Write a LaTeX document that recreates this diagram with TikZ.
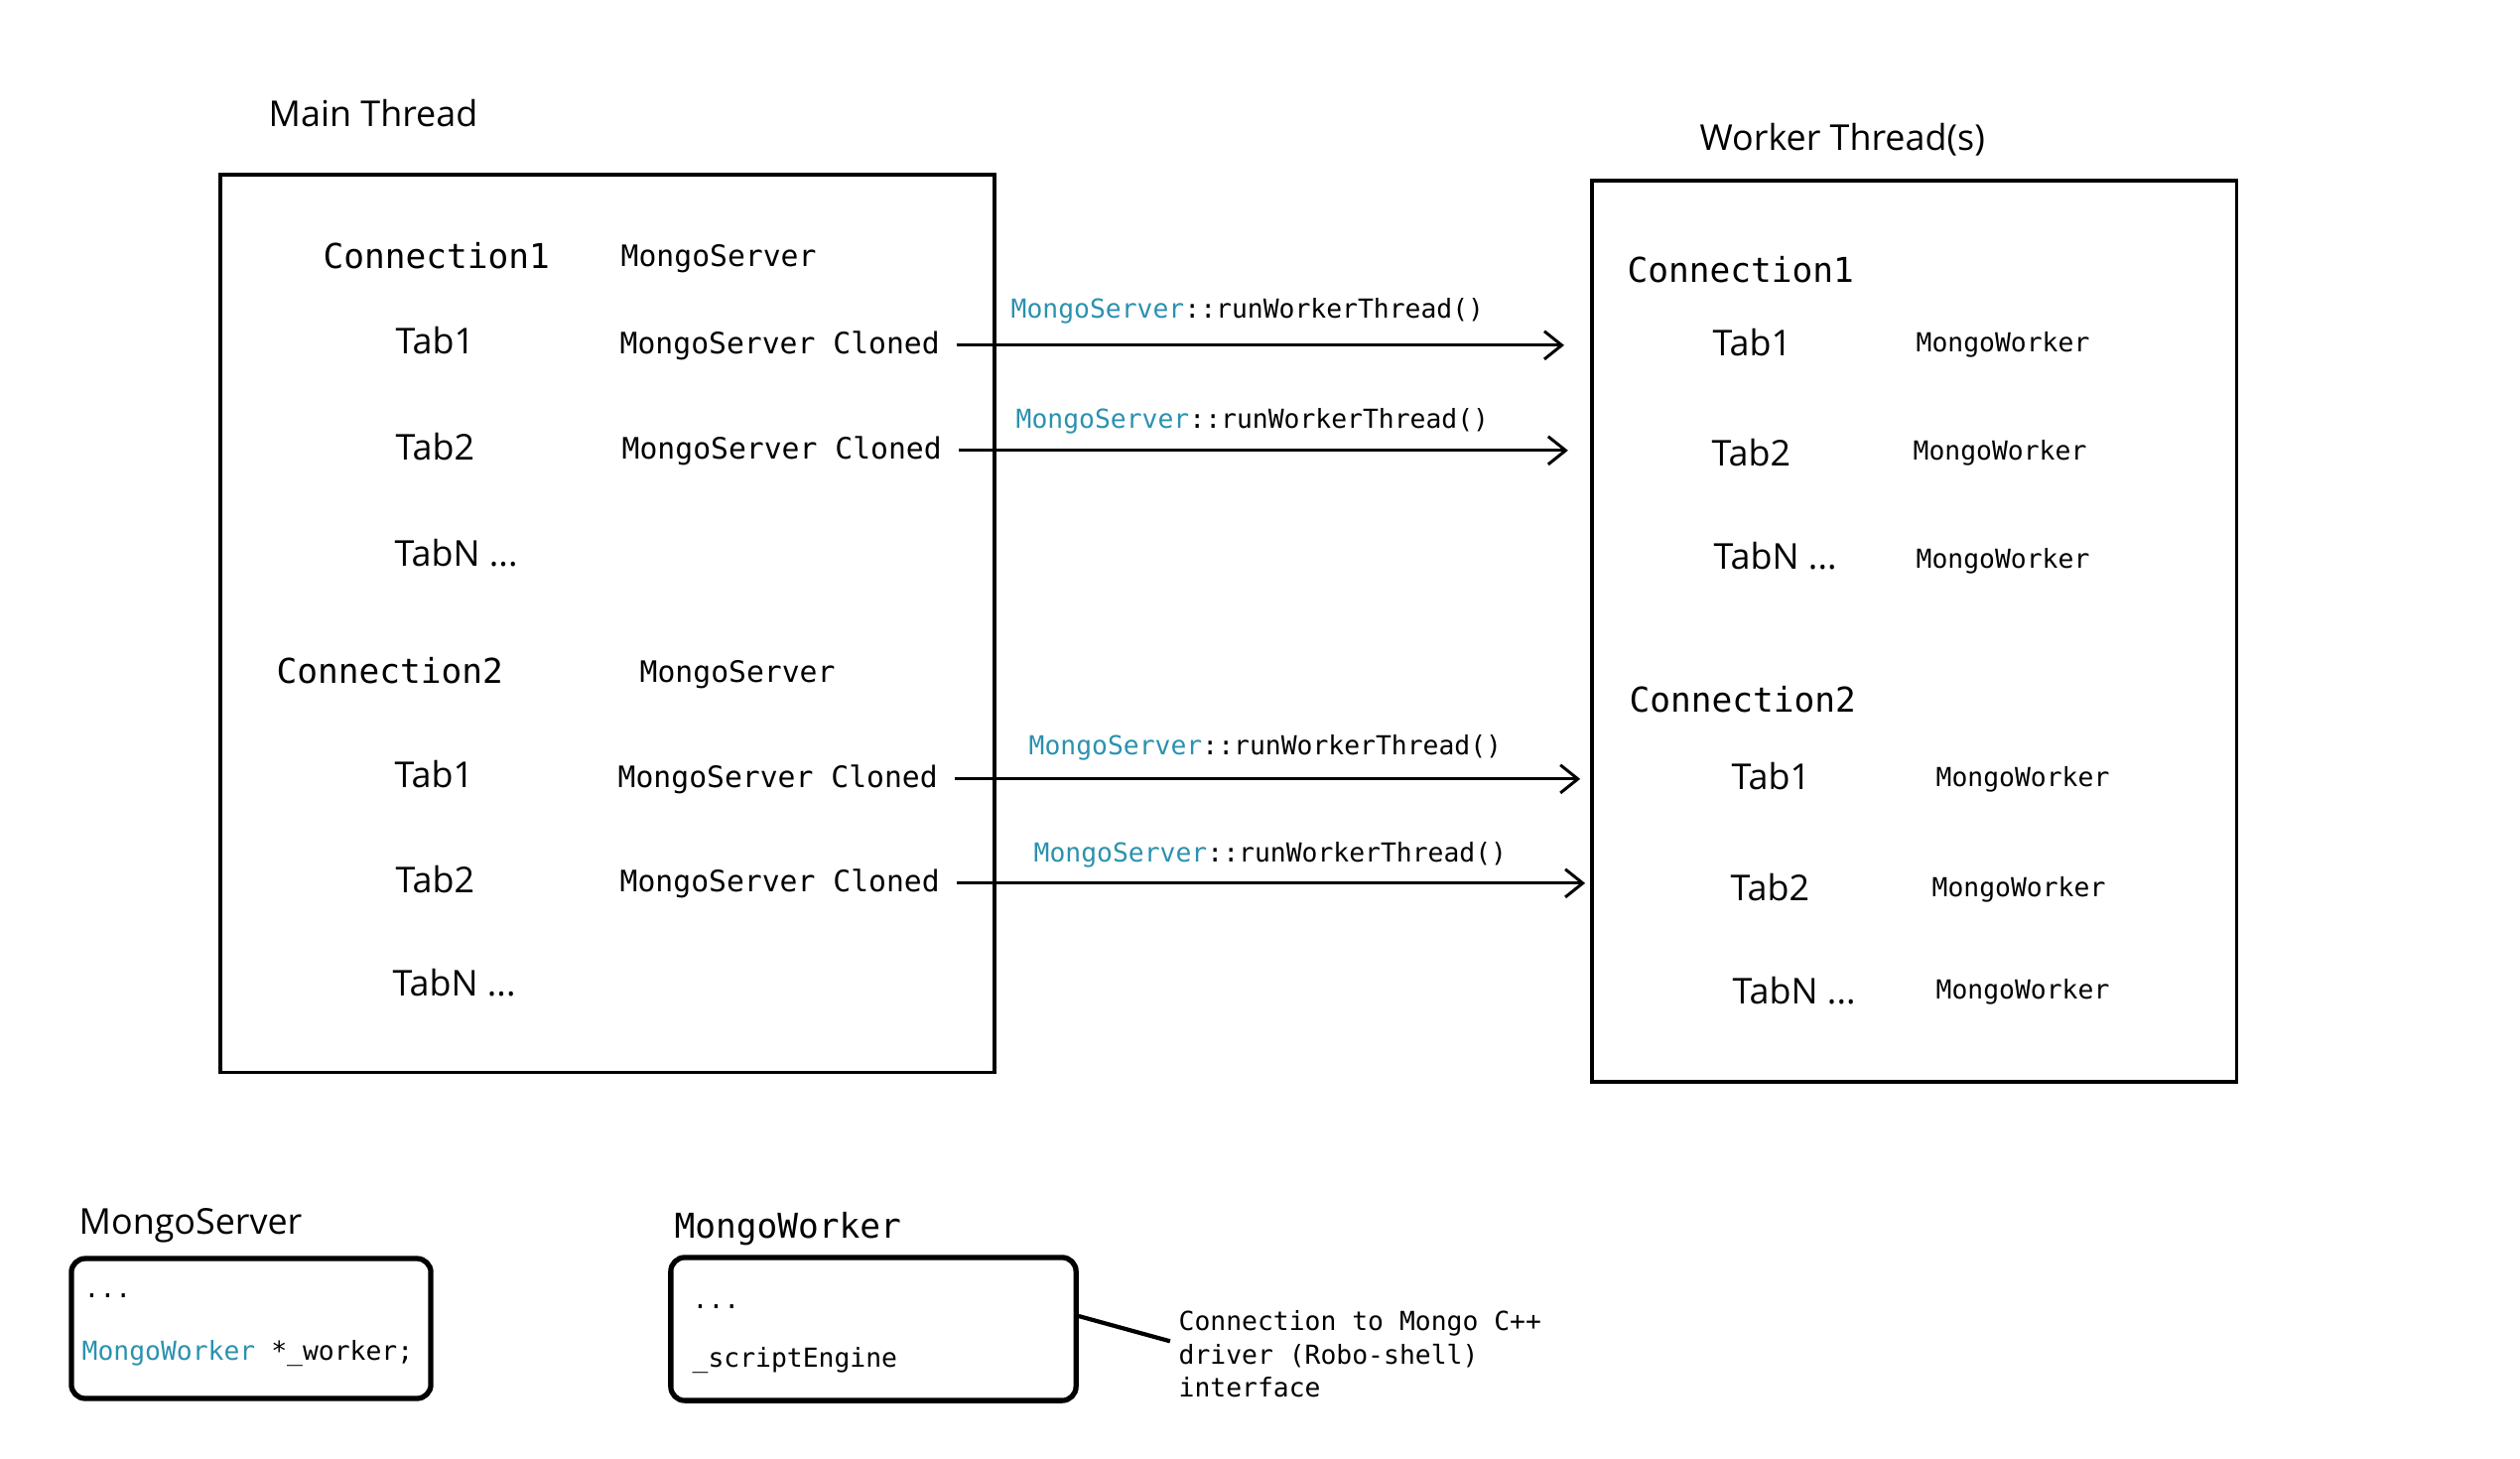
\documentclass[tikz,border=0pt]{standalone}
\usepackage{fontspec}
\setmainfont{Open Sans}
\newfontfamily\codefont{DejaVu Sans Mono}
\usetikzlibrary{arrows.meta}
\definecolor{typeblue}{HTML}{2B91AF}

\begin{document}
\begin{tikzpicture}[x=0.01cm, y=-0.01cm,
    every node/.style={inner sep=0pt, anchor=base west},
    head/.style={font=\fontsize{10.2}{12}\selectfont},
    conn/.style={font=\codefont\fontsize{9.8}{12}\selectfont},
    srv/.style={font=\codefont\fontsize{8.45}{10}\selectfont},
    code/.style={font=\codefont\fontsize{7.5}{9.5}\selectfont},
    frame/.style={draw, line width=1pt, anchor=center},
    membox/.style={draw, line width=1.5pt, rounded corners=4pt, anchor=center}]
  \useasboundingbox (0,0) rectangle (2539,1469);

  % main thread
  \node[head] (mt) at (270,127) {Main Thread};
  \node[frame, minimum width=221.9pt, minimum height=257.2pt] (mbox) at (612,628) {};
  \node[conn] (m1) at (325,270) {Connection1};
  \node[srv] (ms1) at (625,268) {MongoServer};
  \node[head] (m11) at (398,356) {Tab1};
  \node[srv] (mc11) at (624,356) {MongoServer Cloned};
  \node[head] (m12) at (398,463) {Tab2};
  \node[srv] (mc12) at (626,462) {MongoServer Cloned};
  \node[head] (m1n) at (397,570) {TabN ...};
  \node[conn] (m2) at (278,688) {Connection2};
  \node[srv] (ms2) at (644,687) {MongoServer};
  \node[head] (m21) at (397,793) {Tab1};
  \node[srv] (mc21) at (622,793) {MongoServer Cloned};
  \node[head] (m22) at (398,899) {Tab2};
  \node[srv] (mc22) at (624,898) {MongoServer Cloned};
  \node[head] (m2n) at (395,1003) {TabN ...};

  % worker thread(s)
  \node[head] (wt) at (1712,151) {Worker Thread(s)};
  \node[frame, minimum width=184.7pt, minimum height=258.3pt] (wbox) at (1928.5,636) {};
  \node[conn] (w1) at (1639,284) {Connection1};
  \node[head] (w11) at (1725,358) {Tab1};
  \node[code] (ww11) at (1930,354) {MongoWorker};
  \node[head] (w12) at (1724,469) {Tab2};
  \node[code] (ww12) at (1927,463) {MongoWorker};
  \node[head] (w1n) at (1726,573) {TabN ...};
  \node[code] (ww1n) at (1930,572) {MongoWorker};
  \node[conn] (w2) at (1641,717) {Connection2};
  \node[head] (w21) at (1744,795) {Tab1};
  \node[code] (ww21) at (1950,792) {MongoWorker};
  \node[head] (w22) at (1743,907) {Tab2};
  \node[code] (ww22) at (1946,903) {MongoWorker};
  \node[head] (w2n) at (1745,1011) {TabN ...};
  \node[code] (ww2n) at (1950,1006) {MongoWorker};

  % calls
  \node[code] (l11) at (1018,320) {{\color{typeblue}MongoServer}::runWorkerThread()};
  \node[code] (l12) at (1023,431) {{\color{typeblue}MongoServer}::runWorkerThread()};
  \node[code] (l21) at (1036,760) {{\color{typeblue}MongoServer}::runWorkerThread()};
  \node[code] (l22) at (1041,868) {{\color{typeblue}MongoServer}::runWorkerThread()};
  \begin{scope}[-{Straight Barb[length=5pt,width=8pt]}, line width=0.85pt, shorten <=4.8pt]
    \draw[shorten >=7.4pt] (mc11.east) -- (mc11.east -| wbox.west);
    \draw[shorten >=6.3pt] (mc12.east) -- (mc12.east -| wbox.west);
    \draw[shorten >=2.8pt] (mc21.east) -- (mc21.east -| wbox.west);
    \draw[shorten >=1.4pt] (mc22.east) -- (mc22.east -| wbox.west);
  \end{scope}

  % classes
  \node[head] (hs) at (79,1243) {MongoServer};
  \node[membox, minimum width=103pt, minimum height=40.1pt] (sbox) at (253,1338.5) {};
  \node[code] (s1) at (84,1307) {...};
  \node[code] (s2) at (82,1370) {{\color{typeblue}MongoWorker} *\_worker;};
  \node[conn] (hw) at (679,1247) {MongoWorker};
  \node[membox, minimum width=116.1pt, minimum height=41pt] (kbox) at (880,1339) {};
  \node[code] (k1) at (697,1318) {...};
  \node[code] (k2) at (697,1377) {\_scriptEngine};
  \node[code, align=left, anchor=north west] (note) at (1187,1320)
    {Connection to Mongo C++\\driver (Robo-shell)\\interface};
  \draw[line width=1.2pt] ([yshift=3.7pt]kbox.east) -- ([xshift=-2.3pt,yshift=3.7pt]note.west);
\end{tikzpicture}
\end{document}
